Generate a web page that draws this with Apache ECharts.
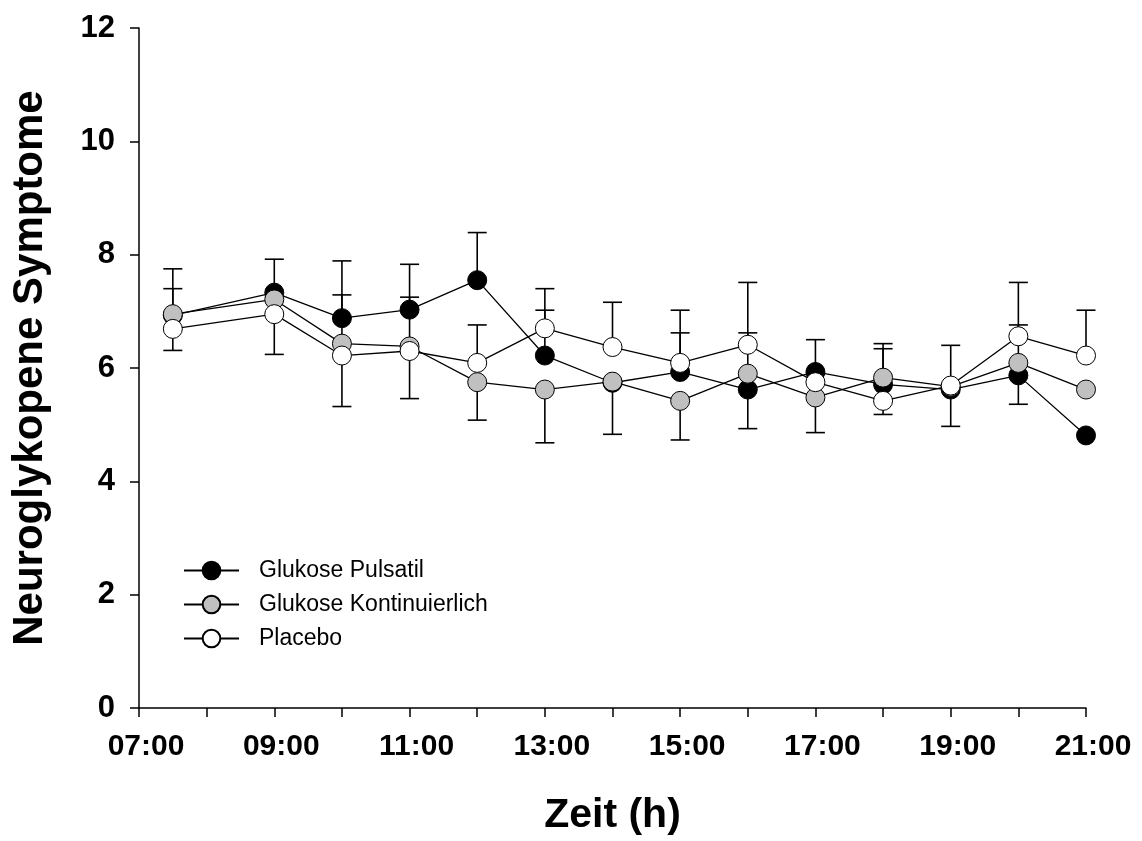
<!DOCTYPE html>
<html>
<head>
<meta charset="utf-8">
<script src="https://cdn.jsdelivr.net/npm/echarts@6/dist/echarts.min.js"></script>
<style>html,body{margin:0;padding:0;background:#fff}#c{width:1142px;height:841px}</style>
</head>
<body>
<div id="c"></div>
<script>
// Time points (hours)
const hours = [7.5, 9, 10, 11, 12, 13, 14, 15, 16, 17, 18, 19, 20, 21];
// Series means
const pulsatil       = [6.93, 7.33, 6.88, 7.03, 7.55, 6.22, 5.74, 5.93, 5.62, 5.93, 5.71, 5.62, 5.87, 4.81];
const kontinuierlich = [6.95, 7.21, 6.43, 6.38, 5.75, 5.62, 5.76, 5.42, 5.90, 5.48, 5.83, 5.67, 6.09, 5.62];
const placebo        = [6.69, 6.95, 6.22, 6.30, 6.09, 6.70, 6.37, 6.09, 6.41, 5.75, 5.42, 5.69, 6.56, 6.22];
// Error bars (positive = drawn upward, negative = drawn downward, null = not shown)
const pulsatilErr       = [0.47, 0.59, 1.01, 0.80, 0.84, 0.80, null, 0.69, -0.69, 0.57, 0.63, -0.65, -0.51, null];
const kontinuierlichErr = [0.80, null, 0.86, 0.87, -0.67, -0.94, -0.93, -0.69, 0.72, -0.62, 0.60, null, 0.67, null];
const placeboErr        = [-0.38, -0.71, -0.90, -0.84, 0.67, 0.70, 0.79, 0.93, 1.10, null, -0.24, 0.71, 0.95, 0.80];
// Axis ticks
const xMin = 7, xMax = 21, xStep = 1;
const yMin = 0, yMax = 12, yStep = 2;
const seriesNames = ['Glukose Pulsatil', 'Glukose Kontinuierlich', 'Placebo'];

const FONT = '"Liberation Sans", Arial, sans-serif';

function errData(means, errs) {
  const out = [];
  means.forEach((m, i) => {
    if (errs[i] !== null && errs[i] !== undefined) out.push([hours[i], m, m + errs[i]]);
  });
  return out;
}

function errSeries(means, errs) {
  return {
    type: 'custom',
    z: 1,
    silent: true,
    data: errData(means, errs),
    encode: { x: 0, y: [1, 2] },
    renderItem: function (params, api) {
      const p0 = api.coord([api.value(0), api.value(1)]);
      const p1 = api.coord([api.value(0), api.value(2)]);
      const half = 9.5;
      const st = { stroke: '#000', lineWidth: 1.6 };
      return {
        type: 'group',
        children: [
          { type: 'line', shape: { x1: p0[0], y1: p0[1], x2: p1[0], y2: p1[1] }, style: st },
          { type: 'line', shape: { x1: p1[0] - half, y1: p1[1], x2: p1[0] + half, y2: p1[1] }, style: st }
        ]
      };
    }
  };
}

function lineSeries(name, means, fill, z) {
  return {
    name: name,
    type: 'line',
    z: z,
    data: hours.map((h, i) => [h, means[i]]),
    symbol: 'circle',
    symbolSize: 19,
    showAllSymbol: true,
    lineStyle: { color: '#000', width: 1.3 },
    itemStyle: { color: fill, borderColor: '#000', borderWidth: 1 },
    emphasis: { disabled: true },
    animation: false
  };
}

const chart = echarts.init(document.getElementById('c'), null, { renderer: 'canvas' });
chart.setOption({
  animation: false,
  backgroundColor: '#fff',
  grid: { left: 139, right: 56, top: 28, bottom: 131 },
  legend: {
    orient: 'vertical',
    left: 183,
    top: 559,
    padding: 0,
    itemWidth: 55,
    itemHeight: 22,
    itemGap: 11,
    data: seriesNames,
    textStyle: { fontFamily: FONT, fontSize: 23, color: '#000', padding: [0, 0, 0, 15] }
  },
  xAxis: {
    type: 'value',
    min: xMin, max: xMax, interval: xStep,
    name: 'Zeit (h)',
    nameLocation: 'middle',
    nameGap: 87,
    nameTextStyle: { fontFamily: FONT, fontSize: 41, fontWeight: 'bold', color: '#000' },
    splitLine: { show: false },
    axisLine: { lineStyle: { color: '#000', width: 1.5 } },
    axisTick: { show: true, inside: false, length: 9, lineStyle: { color: '#000', width: 1.5 } },
    axisLabel: {
      margin: 24,
      fontFamily: FONT, fontSize: 30, fontWeight: 'bold', color: '#000',
      padding: [0, 0, 0, 14],
      showMinLabel: true, showMaxLabel: true,
      formatter: function (v) {
        if ((v - xMin) % 2 !== 0) return '';
        return (v < 10 ? '0' : '') + v + ':00';
      }
    }
  },
  yAxis: {
    type: 'value',
    min: yMin, max: yMax, interval: yStep,
    name: 'Neuroglykopene Symptome',
    nameLocation: 'middle',
    nameGap: 88,
    nameTextStyle: { fontFamily: FONT, fontSize: 42, fontWeight: 'bold', color: '#000' },
    splitLine: { show: false },
    axisLine: { show: true, lineStyle: { color: '#000', width: 1.5 } },
    axisTick: { show: true, inside: false, length: 9, lineStyle: { color: '#000', width: 1.5 } },
    axisLabel: { margin: 24, fontFamily: FONT, fontSize: 31, fontWeight: 'bold', color: '#000' }
  },
  series: [
    errSeries(pulsatil, pulsatilErr),
    errSeries(kontinuierlich, kontinuierlichErr),
    errSeries(placebo, placeboErr),
    lineSeries(seriesNames[0], pulsatil, '#000000', 2),
    lineSeries(seriesNames[1], kontinuierlich, '#c0c0c0', 3),
    lineSeries(seriesNames[2], placebo, '#ffffff', 4)
  ]
});
</script>
</body>
</html>
